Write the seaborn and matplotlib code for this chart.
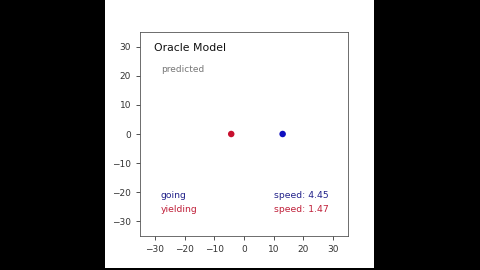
import matplotlib
matplotlib.use("Agg")
import matplotlib.pyplot as plt
import seaborn as sns
import pandas as pd
from matplotlib.patches import Rectangle

# Data
agents = ["yielding", "going"]
pos_x = [-4.3, 13.0]
pos_y = [0.0, 0.0]
speeds = [1.47, 4.45]
ticks = [-30, -20, -10, 0, 10, 20, 30]

sns.set_style("ticks")
plt.rcParams['font.family'] = ['DejaVu Sans']

df = pd.DataFrame({"agent": agents, "x": pos_x, "y": pos_y, "speed": speeds})
point_colors = {"yielding": "#c8102e", "going": "#1010c0"}
text_colors = {"yielding": "#c0203a", "going": "#22228a"}

fig = plt.figure(figsize=(4.8, 2.7), dpi=100, facecolor="black")
bg = Rectangle((105/480, 2/270), 269/480, 268/270,
               transform=fig.transFigure, facecolor="white",
               edgecolor="none", zorder=-10)
fig.patches.append(bg)
ax = fig.add_axes([140/480, (270-236)/270, 208/480, 204/270])
ax.set_zorder(5)
ax.set_facecolor("white")

sns.scatterplot(data=df, x="x", y="y", hue="agent", palette=point_colors,
                s=22, edgecolor="none", legend=False, ax=ax)

ax.set_xlim(-35, 35)
ax.set_ylim(-35, 35)
ax.set_xticks(ticks)
ax.set_yticks(ticks)
ax.set_xlabel("")
ax.set_ylabel("")
ax.tick_params(labelsize=6.5, length=3, width=0.6, colors="#333333")
for s in ax.spines.values():
    s.set_linewidth(0.6)
    s.set_color("#555555")

ax.text(-30.3, 29.5, "Oracle Model", fontsize=7.8, color="#111111", va="center", ha="left")
ax.text(-28, 22, "predicted", fontsize=6.5, color="#777777", va="center", ha="left")

label_y = {"going": -21, "yielding": -26}
for a, sp in zip(agents, speeds):
    ax.text(-28, label_y[a], a, fontsize=6.7, color=text_colors[a], va="center", ha="left")
    ax.text(10, label_y[a], f"speed: {sp:.2f}", fontsize=6.7, color=text_colors[a], va="center", ha="left")

fig.savefig("out.png", dpi=100, facecolor="black")
